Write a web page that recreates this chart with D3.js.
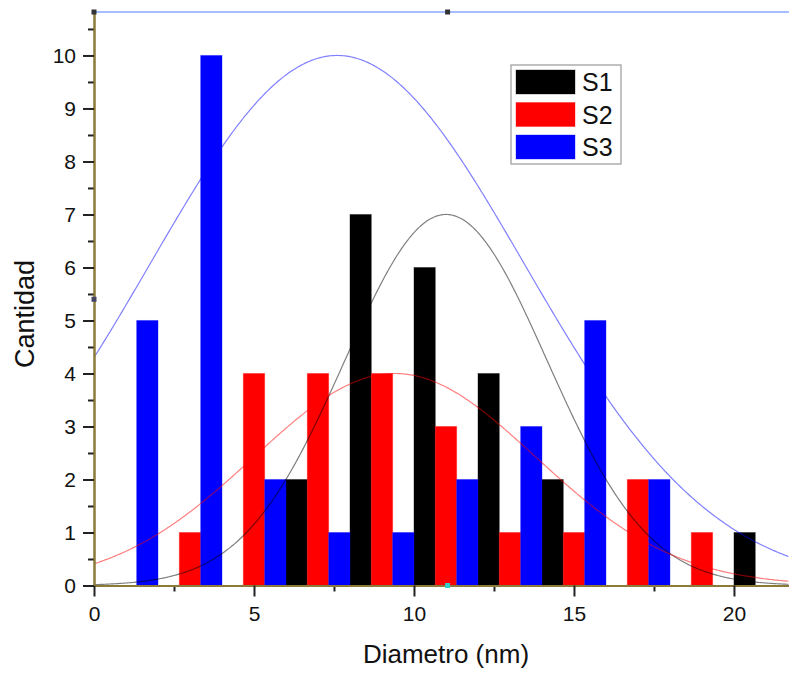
<!DOCTYPE html>
<meta charset="utf-8">
<style>
body { margin: 0; background: #fff; }
svg { display: block; font-family: "Liberation Sans", Arial, sans-serif; }
.axis .domain { stroke: #8b7a3a; stroke-width: 2; }
.axis .tick line { stroke: #222; stroke-width: 2; }
.axis .tick text { fill: #111; font-size: 21px; }
.fit { fill: none; stroke-width: 1.2; stroke-opacity: 0.5; }
</style>
<svg width="789" height="673"></svg>
<script src="https://d3js.org/d3.v7.min.js"></script>
<script>

// bin centres (nm) and counts per sample
var bins = [1, 3, 5, 7, 9, 11, 13, 15, 17, 19, 21];
var s1 = [0, 0, 0, 2, 7, 6, 4, 2, 0, 0, 1];
var s2 = [0, 1, 4, 4, 4, 3, 1, 1, 2, 1, 0];
var s3 = [5, 10, 2, 1, 1, 2, 3, 5, 2, 0, 0];
var seriesNames = ["S1", "S2", "S3"];
var colors = ["#000000", "#ff0000", "#0000ff"];

// gaussian fits: [amplitude, centre, sigma]
var fit1 = [7, 11.0, 3.16];
var fit2 = [4, 9.4, 4.4];
var fit3 = [10, 7.6, 5.85];

var xTicks = [0, 5, 10, 15, 20];
var yTicks = [0, 1, 2, 3, 4, 5, 6, 7, 8, 9, 10];

var svg = d3.select("svg"),
    margin = {top: 12, right: 0, bottom: 87.5, left: 94},
    width = +svg.attr("width") - margin.left - margin.right,
    height = +svg.attr("height") - margin.top - margin.bottom;

var x = d3.scaleLinear().domain([0, 21.72]).range([0, width]),
    y = d3.scaleLinear().domain([0, 10.82]).range([height, 0]);

var g = svg.append("g")
    .attr("transform", "translate(" + margin.left + "," + margin.top + ")");

svg.append("clipPath").attr("id", "clip")
  .append("rect").attr("width", width).attr("height", height + 1);

// top frame line
g.append("line")
    .attr("x1", 0).attr("x2", width)
    .attr("y1", 0).attr("y2", 0)
    .attr("stroke", "#88a8ff").attr("stroke-width", 1.5);

var barW = 2 / 3;
var series = [s1, s2, s3];
var bars = [];
series.forEach(function(vals, si) {
  vals.forEach(function(v, i) {
    if (v > 0) bars.push({s: si, x: bins[i] + (si - 1) * barW, v: v});
  });
});

g.append("g").attr("clip-path", "url(#clip)")
  .selectAll("rect")
  .data(bars)
  .enter().append("rect")
    .attr("x", function(d) { return x(d.x - barW / 2); })
    .attr("y", function(d) { return y(d.v); })
    .attr("width", x(barW) - x(0))
    .attr("height", function(d) { return y(0) - y(d.v); })
    .attr("fill", function(d) { return colors[d.s]; })
    .attr("stroke", function(d) { return colors[d.s]; })
    .attr("stroke-opacity", 0.35);

// fitted curves
var xs = d3.range(0, 21.75, 0.05);
var line = d3.line()
    .x(function(d) { return x(d[0]); })
    .y(function(d) { return y(d[1]); });
[fit1, fit2, fit3].forEach(function(f, i) {
  var pts = xs.map(function(t) {
    return [t, f[0] * Math.exp(-Math.pow(t - f[1], 2) / (2 * f[2] * f[2]))];
  });
  g.append("path").attr("class", "fit")
      .attr("clip-path", "url(#clip)")
      .attr("stroke", colors[i])
      .attr("d", line(pts));
});

// axes
g.append("g")
    .attr("class", "axis")
    .attr("transform", "translate(0," + height + ")")
    .call(d3.axisBottom(x).tickValues(d3.range(2.5, 21, 5)).tickSize(6).tickSizeOuter(0).tickFormat(""));
g.append("g")
    .attr("class", "axis")
    .attr("transform", "translate(0," + height + ")")
    .call(d3.axisBottom(x).tickValues(xTicks).tickSize(11).tickSizeOuter(0).tickPadding(10).tickFormat(d3.format("d")));

g.append("g")
    .attr("class", "axis")
    .call(d3.axisLeft(y).tickValues(d3.range(0.5, 10.8, 1)).tickSize(6).tickSizeOuter(0).tickFormat(""));
g.append("g")
    .attr("class", "axis")
    .call(d3.axisLeft(y).tickValues(yTicks).tickSize(11).tickSizeOuter(0).tickPadding(7).tickFormat(d3.format("d")));

// axis titles
svg.append("text")
    .attr("x", 446)
    .attr("y", 663)
    .attr("text-anchor", "middle")
    .attr("font-size", 26)
    .attr("fill", "#111")
    .text("Diametro (nm)");

svg.append("text")
    .attr("transform", "translate(34,314) rotate(-90)")
    .attr("text-anchor", "middle")
    .attr("font-size", 27)
    .attr("fill", "#111")
    .text("Cantidad");

// legend
var legend = svg.append("g").attr("transform", "translate(511,65)");
legend.append("rect")
    .attr("width", 110).attr("height", 99)
    .attr("fill", "#fff").attr("stroke", "#999").attr("stroke-width", 1.2);
seriesNames.forEach(function(name, i) {
  var row = legend.append("g").attr("transform", "translate(5," + (5 + i * 32.5) + ")");
  row.append("rect")
      .attr("width", 59).attr("height", 24)
      .attr("fill", colors[i])
      .attr("stroke", colors[i]).attr("stroke-opacity", 0.35);
  row.append("text")
      .attr("x", 66).attr("y", 21)
      .attr("font-size", 25)
      .attr("fill", "#111")
      .text(name);
});

// small selection handles as in the original screenshot
var handles = [[0, 0, "#333"], [x(11.05), 0, "#333"], [0, y(5.4), "#446"], [x(11.05), height, "#3cc"]];
g.selectAll(".handle").data(handles).enter().append("rect")
    .attr("x", function(d) { return d[0] - 2.5; })
    .attr("y", function(d) { return d[1] - 2.5; })
    .attr("width", 5).attr("height", 5)
    .attr("fill", function(d) { return d[2]; });

</script>
